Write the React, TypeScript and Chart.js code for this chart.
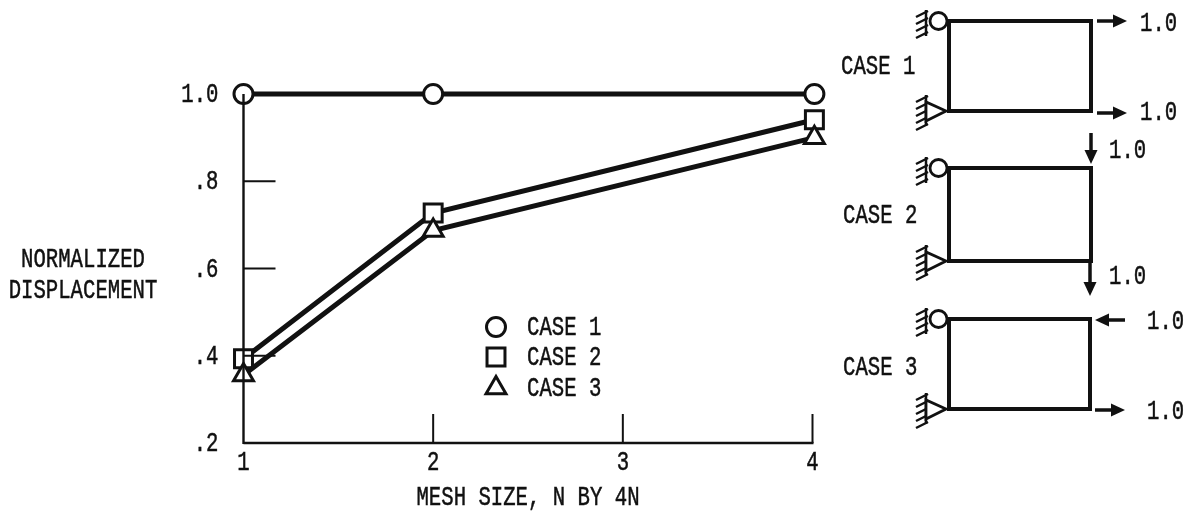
import { useEffect, useRef } from "react";
import { Chart, registerables } from "chart.js";
import { drawPoint } from "chart.js/helpers";

Chart.register(...registerables);

const meshSizes = [1, 2, 4.01];
const case1Values = [1.0, 1.0, 1.0];
const case2Values = [0.393, 0.727, 0.941];
const case3Values = [0.356, 0.687, 0.9];
const seriesLabels = ["CASE 1", "CASE 2", "CASE 3"];
const xTicks = [1, 2, 3, 4];
const yTicks = [0.2, 0.4, 0.6, 0.8, 1.0];
const yTickLabels = [".2", ".4", ".6", ".8", "1.0"];
const yAxisLines = ["NORMALIZED", "DISPLACEMENT"];
const xAxisTitle = "MESH SIZE, N BY 4N";
const loadLabel = "1.0";

const INK = "#111";
const FONT = '"Liberation Mono", monospace';
const FONT_SIZE = 27;
const TEXT_SQUEEZE = 0.765;

const structures = [
  { label: "CASE 1", lx: 841, ly: 66, top: 21, bottom: 111, left: 949, right: 1091 },
  { label: "CASE 2", lx: 843, ly: 215, top: 168, bottom: 261, left: 949, right: 1091 },
  { label: "CASE 3", lx: 843, ly: 367, top: 319, bottom: 409, left: 949, right: 1090 },
];
const arrows = [
  { x1: 1097, y1: 21, x2: 1127, y2: 21 },
  { x1: 1097, y1: 113, x2: 1127, y2: 113 },
  { x1: 1091, y1: 133, x2: 1091, y2: 164 },
  { x1: 1090, y1: 263, x2: 1090, y2: 296 },
  { x1: 1125, y1: 320, x2: 1095, y2: 320 },
  { x1: 1095, y1: 410, x2: 1125, y2: 410 },
];
const loadPositions = [
  [1140, 23], [1140, 112], [1109, 150], [1109, 276], [1147, 321], [1147, 411],
];
const legendSpot = { markerX: 496, textX: 527, rows: [327, 357, 388] };

const series = [
  { values: case1Values, pointStyle: "circle", radius: 9.5 },
  { values: case2Values, pointStyle: "rect", radius: 12.7 },
  { values: case3Values, pointStyle: "triangle", radius: 11.5 },
];

function line(c: CanvasRenderingContext2D, x1: number, y1: number, x2: number, y2: number, w: number) {
  c.lineWidth = w;
  c.beginPath();
  c.moveTo(x1, y1);
  c.lineTo(x2, y2);
  c.stroke();
}

function hatch(c: CanvasRenderingContext2D, x: number, y0: number, y1: number) {
  line(c, x, y0, x, y1, 2.5);
  for (let y = y0 + 4; y <= y1 + 3; y += 7) line(c, x + 2, y - 3, x - 10, y + 3, 2.5);
}

function arrow(c: CanvasRenderingContext2D, a: { x1: number; y1: number; x2: number; y2: number }) {
  const ang = Math.atan2(a.y2 - a.y1, a.x2 - a.x1);
  const hx = a.x2 - Math.cos(ang) * 14;
  const hy = a.y2 - Math.sin(ang) * 14;
  line(c, a.x1, a.y1, hx, hy, 3.5);
  const nx = -Math.sin(ang) * 6.5;
  const ny = Math.cos(ang) * 6.5;
  c.beginPath();
  c.moveTo(a.x2, a.y2);
  c.lineTo(hx + nx, hy + ny);
  c.lineTo(hx - nx, hy - ny);
  c.closePath();
  c.fill();
}

const paper = {
  id: "paper",
  beforeInit(chart: any) {
    // The reference's lettering is a tall, narrow, fairly heavy typewriter face:
    // squeeze every label horizontally and thicken it slightly.
    const c = chart.ctx;
    const original = c.fillText.bind(c);
    c.fillText = (t: string, x: number, y: number) => {
      c.save();
      c.translate(x, y + 1);
      c.scale(TEXT_SQUEEZE, 1);
      original(t, 0, 0);
      c.strokeStyle = c.fillStyle;
      c.lineWidth = 0.5;
      c.strokeText(t, 0, 0);
      c.restore();
    };
  },
  afterDatasetsDraw(chart: any) {
    const c: CanvasRenderingContext2D = chart.ctx;
    const { x, y } = chart.scales;
    const left = x.getPixelForValue(1);
    const right = x.getPixelForValue(4);
    const base = y.getPixelForValue(0.2);
    const top = y.getPixelForValue(1);
    c.save();
    c.strokeStyle = INK;
    c.lineCap = "butt";
    line(c, left, top, left, base + 1, 2.4);
    line(c, left, base, right + 1, base, 2.4);
    for (const t of yTicks.slice(1, -1)) {
      const p = y.getPixelForValue(t);
      line(c, left, p, left + 32, p, 2);
    }
    for (const t of xTicks.slice(1)) {
      const p = x.getPixelForValue(t);
      line(c, p, base - 29, p, base, 2);
    }
    c.restore();
  },
  afterDraw(chart: any) {
    const c: CanvasRenderingContext2D = chart.ctx;
    c.save();
    c.fillStyle = INK;
    c.strokeStyle = INK;
    c.font = `${FONT_SIZE}px ${FONT}`;
    c.textBaseline = "middle";

    c.textAlign = "center";
    yAxisLines.forEach((t, i) => c.fillText(t, 83, 259 + i * 31));

    c.textAlign = "left";
    seriesLabels.forEach((t, i) => {
      const rowY = legendSpot.rows[i];
      c.fillText(t, legendSpot.textX, rowY);
      c.lineWidth = 3;
      c.fillStyle = "#fff";
      drawPoint(c, { pointStyle: series[i].pointStyle as any, radius: series[i].radius, rotation: 0, borderWidth: 3 }, legendSpot.markerX, rowY);
      c.fillStyle = INK;
    });

    for (const s of structures) {
      c.fillText(s.label, s.lx, s.ly);
      c.lineJoin = "miter";
      c.lineWidth = 4;
      c.strokeRect(s.left, s.top, s.right - s.left, s.bottom - s.top);
      hatch(c, s.left - 23, s.top - 11, s.top + 15);
      hatch(c, s.left - 23, s.bottom - 16, s.bottom + 15);
      c.lineWidth = 2.8;
      c.fillStyle = "#fff";
      c.beginPath();
      c.arc(s.left - 10.5, s.top, 8.5, 0, Math.PI * 2);
      c.fill();
      c.stroke();
      c.beginPath();
      c.moveTo(s.left - 3, s.bottom);
      c.lineTo(s.left - 23, s.bottom - 9);
      c.lineTo(s.left - 23, s.bottom + 10);
      c.closePath();
      c.fill();
      c.stroke();
      c.fillStyle = INK;
    }
    arrows.forEach((a) => arrow(c, a));
    loadPositions.forEach(([px, py]) => c.fillText(loadLabel, px, py));
    c.restore();
  },
};

export default function App() {
  const ref = useRef<HTMLCanvasElement | null>(null);
  useEffect(() => {
    if (!ref.current) return;
    const chart = new Chart(ref.current, {
      type: "line",
      data: {
        datasets: series
          .map((s, i) => ({
            label: seriesLabels[i],
            data: s.values.map((v, j) => ({ x: meshSizes[j], y: v })),
            borderColor: INK,
            borderWidth: 5,
            pointStyle: s.pointStyle as any,
            pointRadius: s.radius,
            pointBorderWidth: 3,
            pointBorderColor: INK,
            pointBackgroundColor: "#fff",
            tension: 0,
            clip: false as any,
          }))
          .reverse(),
      },
      options: {
        responsive: false,
        animation: false,
        events: [],
        layout: { padding: { left: 143.5, right: 380.5, top: 94, bottom: 0 } },
        plugins: { legend: { display: false }, tooltip: { enabled: false } },
        scales: {
          x: {
            type: "linear",
            min: 1,
            max: 4,
            afterFit: (s: any) => { s.height = 71; },
            afterBuildTicks: (s: any) => { s.ticks = xTicks.map((value) => ({ value })); },
            grid: { display: false, drawTicks: false },
            border: { display: false },
            ticks: { color: INK, font: { family: FONT, size: FONT_SIZE }, padding: 3, maxRotation: 0, autoSkip: false, callback: (v: any) => String(v) },
            title: { display: true, text: xAxisTitle, color: INK, font: { family: FONT, size: FONT_SIZE }, padding: { top: 0, bottom: 1 } },
          },
          y: {
            type: "linear",
            min: 0.2,
            max: 1,
            afterFit: (s: any) => { s.width = 100; },
            afterBuildTicks: (s: any) => { s.ticks = yTicks.map((value) => ({ value })); },
            grid: { display: false, drawTicks: false },
            border: { display: false },
            ticks: {
              color: INK,
              font: { family: FONT, size: FONT_SIZE },
              padding: 25,
              autoSkip: false,
              callback: (v: any) => yTickLabels[yTicks.findIndex((t) => Math.abs(t - v) < 1e-6)],
            },
          },
        },
      },
      plugins: [paper],
    } as any);
    return () => chart.destroy();
  }, []);
  return (
    <div style={{ position: "absolute", left: 0, top: 0, width: 1193, height: 514, background: "#fff" }}>
      <canvas ref={ref} width={1193} height={514} style={{ display: "block" }} />
    </div>
  );
}
